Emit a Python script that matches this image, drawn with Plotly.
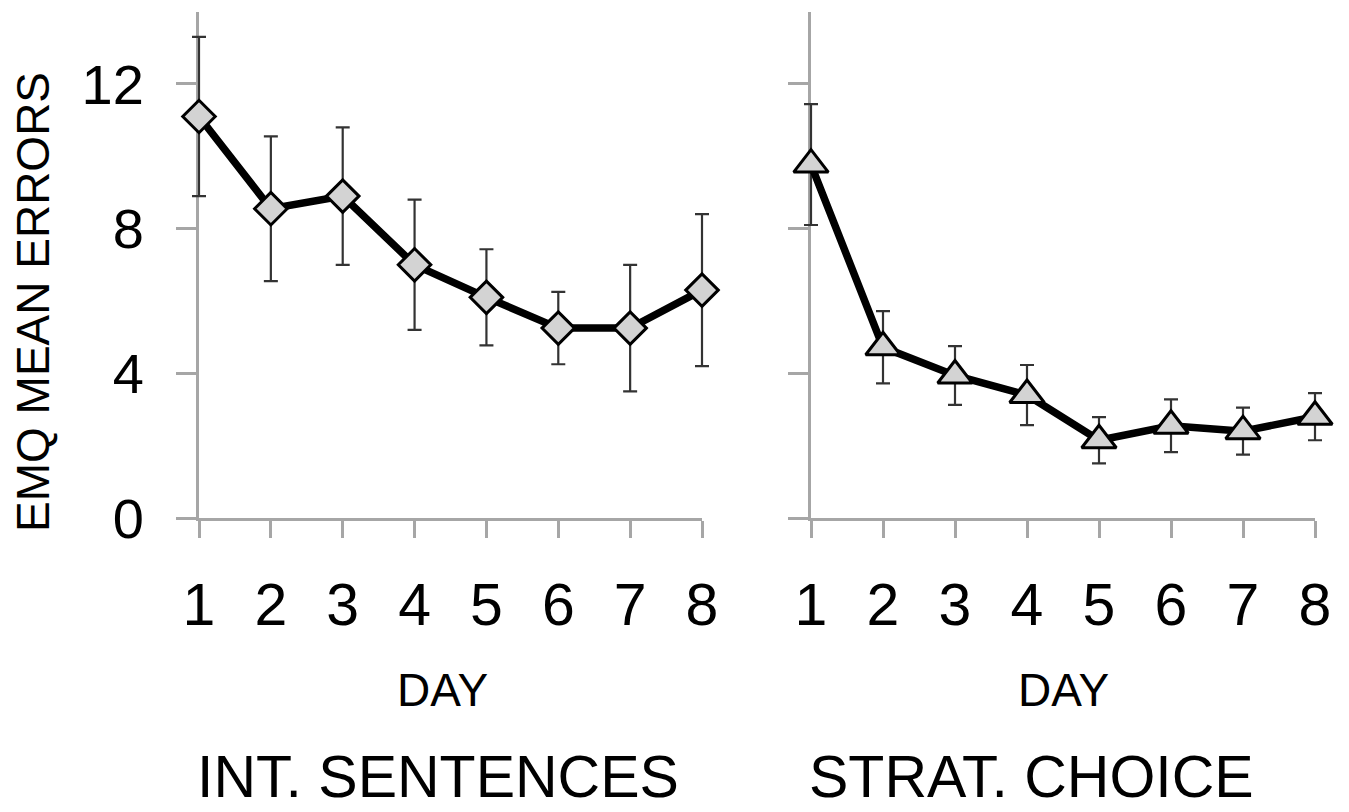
import plotly.graph_objects as go

days = [1, 2, 3, 4, 5, 6, 7, 8]
int_sent_mean = [11.1, 8.55, 8.9, 7.0, 6.1, 5.25, 5.25, 6.3]
int_sent_err = [2.2, 2.0, 1.9, 1.8, 1.33, 1.0, 1.75, 2.1]
strat_mean = [9.77, 4.72, 3.94, 3.40, 2.15, 2.55, 2.40, 2.80]
strat_err = [1.67, 1.0, 0.81, 0.83, 0.64, 0.73, 0.65, 0.65]
y_ticks = [0, 4, 8, 12]
panel_titles = ["INT. SENTENCES", "STRAT. CHOICE"]
x_title = "DAY"
y_title = "EMQ MEAN ERRORS"

FONT = "Liberation Sans, Arial, sans-serif"
AXIS_GRAY = "#a6a6a6"
W, H = 1349, 812

# panel pixel extents (day 1 .. day 8)
p1 = (199, 702)
p2 = (811, 1315)
PAD = 30  # extra px for the data axes so marks at the edge are not clipped


def wide(p):
    span = p[1] - p[0]
    u = PAD * (days[-1] - days[0]) / span
    return ([(p[0] - PAD) / W, (p[1] + PAD) / W], [days[0] - u, days[-1] + u])


d3, r3 = wide(p1)
d4, r4 = wide(p2)

fig = go.Figure()
# invisible anchors so the visible axis subplots exist (drawn first, below data)
for mean, xa, ya in [(int_sent_mean, "x", "y"), (strat_mean, "x2", "y2")]:
    fig.add_trace(go.Scatter(x=days, y=mean, mode="markers",
                             marker=dict(size=1, opacity=0),
                             xaxis=xa, yaxis=ya, showlegend=False, hoverinfo="skip"))

series = [
    (int_sent_mean, int_sent_err, "diamond", 25, "x3", "y"),
    (strat_mean, strat_err, "triangle-up", 30, "x4", "y2"),
]
for mean, err, sym, size, xa, ya in series:
    fig.add_trace(go.Scatter(
        x=days, y=mean, mode="markers",
        marker=dict(size=1, opacity=0),
        error_y=dict(type="data", array=err, visible=True,
                     color="#333333", thickness=2.2, width=7),
        xaxis=xa, yaxis=ya, showlegend=False, hoverinfo="skip"))
    fig.add_trace(go.Scatter(
        x=days, y=mean, mode="lines+markers",
        line=dict(color="black", width=7.5),
        marker=dict(symbol=sym, size=size, color="#d3d3d3",
                    line=dict(color="black", width=3)),
        cliponaxis=False, xaxis=xa, yaxis=ya, showlegend=False))

xdom1 = [p1[0] / W, p1[1] / W]
xdom2 = [p2[0] / W, p2[1] / W]
ydom = [1 - 518 / H, 1 - 11.6 / H]

xcommon = dict(range=[days[0], days[-1]], tickvals=days, showline=True,
               linecolor=AXIS_GRAY, linewidth=3, ticks="outside", ticklen=17,
               tickwidth=3, tickcolor=AXIS_GRAY, showgrid=False, zeroline=False,
               tickfont=dict(family=FONT, size=59, color="black"),
               ticklabelstandoff=16, automargin=False, fixedrange=True)
ycommon = dict(range=[0, 14], tickvals=y_ticks, showline=True, linecolor=AXIS_GRAY,
               linewidth=3, ticks="outside", ticklen=20, tickwidth=3,
               tickcolor=AXIS_GRAY, showgrid=False, zeroline=False,
               tickfont=dict(family=FONT, size=56, color="black"),
               ticklabelstandoff=21, automargin=False, fixedrange=True)
hidden = dict(visible=False, showgrid=False, zeroline=False, automargin=False,
              fixedrange=True)

fig.update_layout(
    width=W, height=H, margin=dict(l=0, r=0, t=0, b=0, autoexpand=False),
    paper_bgcolor="white", plot_bgcolor="rgba(0,0,0,0)",
    xaxis=dict(domain=xdom1, anchor="y", **xcommon),
    yaxis=dict(domain=ydom, anchor="x", **ycommon),
    xaxis2=dict(domain=xdom2, anchor="y2", **xcommon),
    yaxis2=dict(domain=ydom, anchor="x2", showticklabels=False, **ycommon),
    xaxis3=dict(domain=d3, range=r3, anchor="y", **hidden),
    xaxis4=dict(domain=d4, range=r4, anchor="y2", **hidden),
    annotations=[
        dict(text=y_title, x=33 / W, y=1 - 302 / H, xref="paper", yref="paper",
             textangle=-90, showarrow=False, xanchor="center", yanchor="middle",
             font=dict(family=FONT, size=46, color="black")),
        dict(text=x_title, x=442 / W, y=1 - 690 / H, xref="paper", yref="paper",
             showarrow=False, xanchor="center", yanchor="middle",
             font=dict(family=FONT, size=46, color="black")),
        dict(text=x_title, x=1063 / W, y=1 - 690 / H, xref="paper", yref="paper",
             showarrow=False, xanchor="center", yanchor="middle",
             font=dict(family=FONT, size=46, color="black")),
        dict(text=panel_titles[0], x=438 / W, y=1 - 777 / H, xref="paper", yref="paper",
             showarrow=False, xanchor="center", yanchor="middle",
             font=dict(family=FONT, size=59, color="black")),
        dict(text=panel_titles[1], x=1031 / W, y=1 - 777 / H, xref="paper", yref="paper",
             showarrow=False, xanchor="center", yanchor="middle",
             font=dict(family=FONT, size=59, color="black")),
    ],
)

fig.write_html("out.html", config={"displayModeBar": False},
               post_script="document.body.style.margin='0';"
                           "document.body.style.overflow='hidden';")
